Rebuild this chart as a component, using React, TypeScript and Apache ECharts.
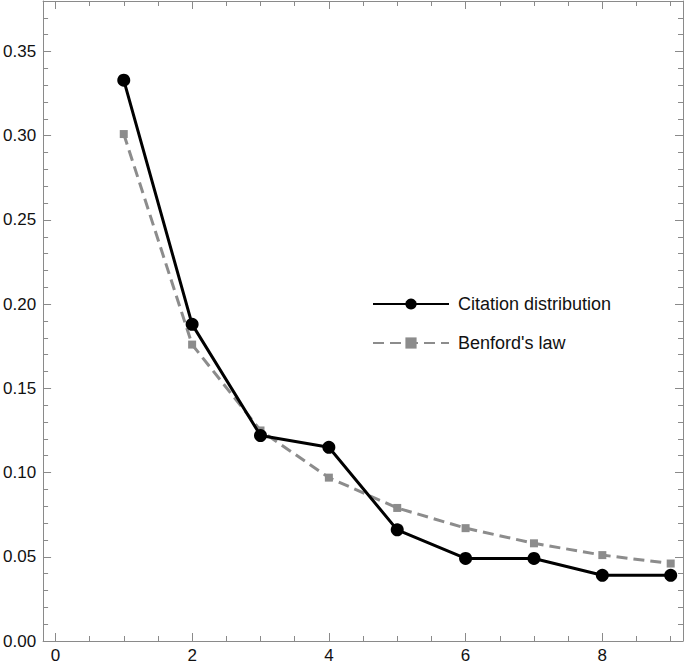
import React, { useEffect, useRef } from "react";
import * as echarts from "echarts";

const digits = [1, 2, 3, 4, 5, 6, 7, 8, 9];
const citationValues = [0.333, 0.188, 0.122, 0.115, 0.066, 0.049, 0.049, 0.039, 0.039];
const benfordValues = [0.301, 0.176, 0.125, 0.097, 0.079, 0.067, 0.058, 0.051, 0.046];
const xMajorTicks = [0, 2, 4, 6, 8];
const xMinorTicks = [0.5, 1, 1.5, 2.5, 3, 3.5, 4.5, 5, 5.5, 6.5, 7, 7.5, 8.5, 9];
const yMajorTicks = [0, 0.05, 0.1, 0.15, 0.2, 0.25, 0.3, 0.35];
const yMinorTicks = [
  0.01, 0.02, 0.03, 0.04, 0.06, 0.07, 0.08, 0.09, 0.11, 0.12, 0.13, 0.14,
  0.16, 0.17, 0.18, 0.19, 0.21, 0.22, 0.23, 0.24, 0.26, 0.27, 0.28, 0.29,
  0.31, 0.32, 0.33, 0.34, 0.36, 0.37,
];

const FONT = "'Liberation Sans', Arial, Helvetica, sans-serif";
const FRAME = "#8a8a8a";
const X_MIN = -0.18;
const X_MAX = 9.18;
const Y_MIN = 0;
const Y_MAX = 0.38;

export default function App() {
  const ref = useRef<HTMLDivElement>(null);
  useEffect(() => {
    if (!ref.current) return;
    const chart = echarts.init(ref.current, null, { renderer: "svg" });

    const xAxisBase = (pos: "bottom" | "top", ticks: number[], len: number, showLine: boolean, labels: boolean) => ({
      type: "value" as const,
      position: pos,
      min: X_MIN,
      max: X_MAX,
      splitLine: { show: false },
      axisLine: { show: showLine, onZero: false, lineStyle: { color: FRAME, width: 1 } },
      axisTick: { show: true, inside: true, length: len, customValues: ticks, lineStyle: { color: FRAME, width: 1 } },
      axisLabel: labels
        ? { show: true, customValues: xMajorTicks, color: "#111", fontSize: 17, fontFamily: FONT, margin: 6 }
        : { show: false },
    });
    const yAxisBase = (pos: "left" | "right", ticks: number[], len: number, showLine: boolean, labels: boolean) => ({
      type: "value" as const,
      position: pos,
      min: Y_MIN,
      max: Y_MAX,
      splitLine: { show: false },
      axisLine: { show: showLine, onZero: false, lineStyle: { color: FRAME, width: 1 } },
      axisTick: { show: true, inside: true, length: len, customValues: ticks, lineStyle: { color: FRAME, width: 1 } },
      axisLabel: labels
        ? {
            show: true,
            customValues: yMajorTicks,
            color: "#111",
            fontSize: 17,
            fontFamily: FONT,
            margin: 7,
            formatter: (v: number) => v.toFixed(2),
          }
        : { show: false },
    });

    chart.setOption({
      animation: false,
      backgroundColor: "#fff",
      grid: { left: 40, right: 2, top: 1, bottom: 21, containLabel: false },
      legend: {
        orient: "vertical",
        left: 367,
        top: 290,
        itemWidth: 76,
        itemHeight: 14,
        itemGap: 21,
        textStyle: { fontSize: 18, fontFamily: FONT, color: "#111", padding: [0, 0, 0, 4] },
        data: ["Citation distribution", "Benford's law"],
      },
      xAxis: [
        xAxisBase("bottom", xMajorTicks, 8, true, true),
        xAxisBase("bottom", xMinorTicks, 5, false, false),
        xAxisBase("top", xMajorTicks, 8, true, false),
        xAxisBase("top", xMinorTicks, 5, false, false),
      ],
      yAxis: [
        yAxisBase("left", yMajorTicks, 8, true, true),
        yAxisBase("left", yMinorTicks, 5, false, false),
        yAxisBase("right", yMajorTicks, 8, true, false),
        yAxisBase("right", yMinorTicks, 5, false, false),
      ],
      series: [
        {
          name: "Benford's law",
          type: "line",
          xAxisIndex: 0,
          yAxisIndex: 0,
          data: digits.map((d, i) => [d, benfordValues[i]]),
          symbol: "rect",
          symbolSize: 8,
          itemStyle: { color: "#8c8c8c" },
          lineStyle: { color: "#8c8c8c", width: 3, type: [11, 6] },
          z: 2,
        },
        {
          name: "Citation distribution",
          type: "line",
          xAxisIndex: 0,
          yAxisIndex: 0,
          data: digits.map((d, i) => [d, citationValues[i]]),
          symbol: "circle",
          symbolSize: 13,
          itemStyle: { color: "#000" },
          lineStyle: { color: "#000", width: 3 },
          z: 3,
        },
      ],
    });
    return () => chart.dispose();
  }, []);
  return <div ref={ref} style={{ position: "fixed", left: 0, top: 0, width: 685, height: 664 }} />;
}
